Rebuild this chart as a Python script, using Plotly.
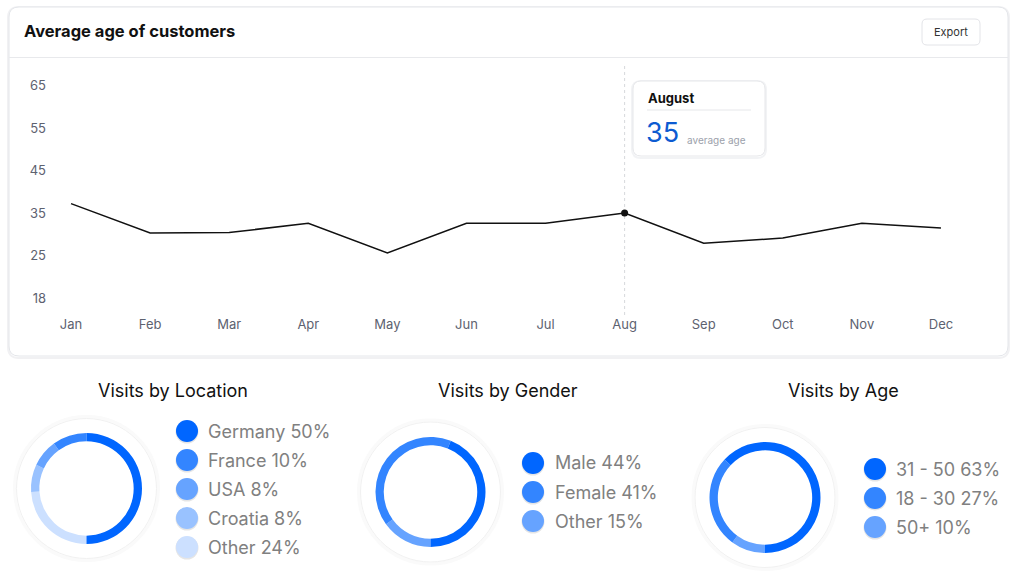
import plotly.graph_objects as go

# ---------------- data ----------------
months = ["Jan", "Feb", "Mar", "Apr", "May", "Jun", "Jul", "Aug", "Sep", "Oct", "Nov", "Dec"]
avg_age = [37.2, 30.3, 30.4, 32.6, 25.6, 32.6, 32.6, 35, 27.9, 29.1, 32.6, 31.5]
y_tick_vals = [15, 25, 35, 45, 55, 65]
y_tick_text = ["18", "25", "35", "45", "55", "65"]
highlight_idx = 7
highlight_name = "August"

loc_labels = ["Germany", "France", "USA", "Croatia", "Other"]
loc_values = [50, 10, 8, 8, 24]
gender_labels = ["Male", "Female", "Other"]
gender_values = [44, 41, 15]
age_labels = ["31 - 50", "18 - 30", "50+"]
age_values = [63, 27, 10]

blues = ["#0066FF", "#3385FF", "#66A3FF", "#99C2FF", "#CCE0FF"]

W, H = 1018, 578
FONT = "Inter"


def px(x):
    return x / W


def py(y):
    return 1 - y / H


fig = go.Figure()
shapes = []
annotations = []

# ---------------- card ----------------
def rounded_rect(x0, y0, x1, y1, r):
    X0, X1 = px(x0), px(x1)
    Y0, Y1 = py(y0), py(y1)
    rx, ry = r / W, r / H
    return (f"M {X0+rx},{Y0} L {X1-rx},{Y0} Q {X1},{Y0} {X1},{Y0-ry} "
            f"L {X1},{Y1+ry} Q {X1},{Y1} {X1-rx},{Y1} L {X0+rx},{Y1} "
            f"Q {X0},{Y1} {X0},{Y1+ry} L {X0},{Y0-ry} Q {X0},{Y0} {X0+rx},{Y0} Z")

# card shadow
shapes.append(dict(type="path", xref="paper", yref="paper", path=rounded_rect(8, 7, 1009, 358, 11),
                   line=dict(color="#f1f1f3", width=2), fillcolor="#ffffff", layer="below"))
shapes.append(dict(type="path", xref="paper", yref="paper", path=rounded_rect(9, 7, 1008, 356, 10),
                   line=dict(color="#e4e6ea", width=1), fillcolor="#ffffff", layer="below"))
shapes.append(dict(type="line", xref="paper", yref="paper", x0=px(9), x1=px(1008), y0=py(57.5), y1=py(57.5),
                   line=dict(color="#e8e9ec", width=1), layer="below"))
annotations.append(dict(xref="paper", yref="paper", x=px(22), y=py(31), xanchor="left", yanchor="middle",
                        text="<b>Average age of customers</b>", showarrow=False,
                        font=dict(family=FONT, size=16.5, color="#111111")))
# export button
shapes.append(dict(type="path", xref="paper", yref="paper", path=rounded_rect(922, 19, 980, 45, 5),
                   line=dict(color="#e3e4e8", width=1), fillcolor="#ffffff", layer="below"))
annotations.append(dict(xref="paper", yref="paper", x=px(951), y=py(32), xanchor="center", yanchor="middle",
                        text="Export", showarrow=False, font=dict(family=FONT, size=11, color="#333333")))

# ---------------- line chart ----------------
fig.add_trace(go.Scatter(x=months, y=avg_age, mode="lines", line=dict(color="#111111", width=1.5),
                         hoverinfo="skip", showlegend=False))
fig.add_trace(go.Scatter(x=[months[highlight_idx]], y=[avg_age[highlight_idx]], mode="markers",
                         marker=dict(color="#111111", size=7), hoverinfo="skip", showlegend=False))

# dashed guide line
shapes.append(dict(type="line", xref="x", yref="paper", x0=months[highlight_idx], x1=months[highlight_idx],
                   y0=py(315), y1=py(63), line=dict(color="#d6d8dc", width=1, dash="dot"), layer="below"))

# tooltip
shapes.append(dict(type="path", xref="paper", yref="paper", path=rounded_rect(632, 81, 766, 158, 9),
                   line=dict(color="#f2f3f5", width=2), fillcolor="#ffffff", layer="above"))
shapes.append(dict(type="path", xref="paper", yref="paper", path=rounded_rect(633, 81, 765, 156, 8),
                   line=dict(color="#e6e7ea", width=1), fillcolor="#ffffff", layer="above"))
shapes.append(dict(type="line", xref="paper", yref="paper", x0=px(647), x1=px(751), y0=py(110), y1=py(110),
                   line=dict(color="#e6e7ea", width=1), layer="above"))
annotations.append(dict(xref="paper", yref="paper", x=px(646), y=py(98), xanchor="left", yanchor="middle",
                        text=f"<b>{highlight_name}</b>", showarrow=False,
                        font=dict(family=FONT, size=13, color="#111111")))
annotations.append(dict(xref="paper", yref="paper", x=px(644), y=py(133), xanchor="left", yanchor="middle",
                        text=f"{avg_age[highlight_idx]:g}", showarrow=False,
                        font=dict(family=FONT, size=27, color="#0d5bd1")))
annotations.append(dict(xref="paper", yref="paper", x=px(685), y=py(140), xanchor="left", yanchor="middle",
                        text="average age", showarrow=False,
                        font=dict(family=FONT, size=10, color="#9ca1ab")))

# ---------------- donuts ----------------
groups = [
    dict(title="Visits by Location", labels=loc_labels, values=loc_values, cx=86.5, cy=488.5, r=55.5,
         tx=173, dot_x=187, text_x=206, leg_y0=431),
    dict(title="Visits by Gender", labels=gender_labels, values=gender_values, cx=430.5, cy=492, r=55,
         tx=507.5, dot_x=533, text_x=553, leg_y0=463),
    dict(title="Visits by Age", labels=age_labels, values=age_values, cx=765, cy=497.5, r=55.5,
         tx=843, dot_x=875, text_x=894, leg_y0=469),
]
LEG_STEP = 29
DOT_R = 11

for g in groups:
    cx, cy, r = g["cx"], g["cy"], g["r"]
    # soft outer halo
    for rr, col, w in [(72, "#fafafa", 3), (70, "#f1f1f1", 1)]:
        shapes.append(dict(type="circle", xref="paper", yref="paper",
                           x0=px(cx - rr), x1=px(cx + rr), y0=py(cy + rr), y1=py(cy - rr),
                           line=dict(color=col, width=w), fillcolor="#ffffff", layer="below"))
    n = len(g["labels"])
    # slices run counter-clockwise starting at 6 o'clock: draw the reversed series clockwise
    fig.add_trace(go.Pie(labels=g["labels"][::-1], values=g["values"][::-1], hole=0.85, sort=False,
                         direction="clockwise", rotation=180,
                         marker=dict(colors=blues[:n][::-1], line=dict(width=0)),
                         textinfo="none", hoverinfo="skip", showlegend=False,
                         domain=dict(x=[px(cx - r), px(cx + r)], y=[py(cy + r), py(cy - r)])))
    annotations.append(dict(xref="paper", yref="paper", x=px(g["tx"]), y=py(390), xanchor="center",
                            yanchor="middle", text=g["title"], showarrow=False,
                            font=dict(family=FONT, size=18, color="#111111")))
    for i, (lab, val) in enumerate(zip(g["labels"], g["values"])):
        yy = g["leg_y0"] + i * LEG_STEP
        dx = g["dot_x"]
        shapes.append(dict(type="circle", xref="paper", yref="paper",
                           x0=px(dx - DOT_R - 0.5), x1=px(dx + DOT_R + 0.5),
                           y0=py(yy + DOT_R + 1.5), y1=py(yy - DOT_R + 0.5),
                           line=dict(width=0), fillcolor="rgba(0,0,0,0.10)", layer="below"))
        shapes.append(dict(type="circle", xref="paper", yref="paper",
                           x0=px(dx - DOT_R), x1=px(dx + DOT_R), y0=py(yy + DOT_R), y1=py(yy - DOT_R),
                           line=dict(width=0), fillcolor=blues[i], layer="below"))
        annotations.append(dict(xref="paper", yref="paper", x=px(g["text_x"]), y=py(yy), xanchor="left",
                                yanchor="middle", text=f"{lab} {val}%", showarrow=False,
                                font=dict(family=FONT, size=18, color="#808080")))

# ---------------- layout ----------------
fig.update_layout(
    width=W, height=H,
    margin=dict(l=0, r=0, t=0, b=0),
    paper_bgcolor="#ffffff",
    plot_bgcolor="rgba(0,0,0,0)",
    font=dict(family=FONT),
    shapes=shapes,
    annotations=annotations,
    xaxis=dict(domain=[px(31.5), px(980.5)], range=[-0.5, 11.5], showgrid=False, zeroline=False,
               showline=False, ticks="", tickfont=dict(family=FONT, size=13, color="#5d6270"),
               fixedrange=True),
    yaxis=dict(domain=[py(315), py(63)], range=[11, 70.3], anchor="free", position=px(46),
               tickvals=y_tick_vals, ticktext=y_tick_text, showgrid=False, zeroline=False,
               showline=False, ticks="", tickfont=dict(family=FONT, size=13, color="#5d6270"),
               fixedrange=True),
)

fig.write_html("out.html")
